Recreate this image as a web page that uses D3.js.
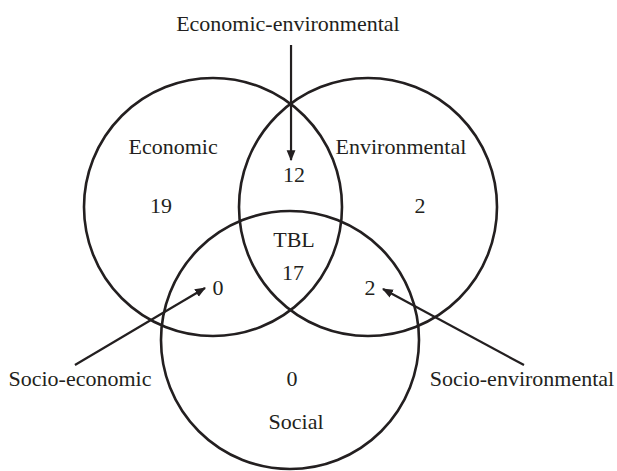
<!DOCTYPE html>
<html>
<head>
<meta charset="utf-8">
<script src="https://cdn.jsdelivr.net/npm/d3@7"></script>
<style>
  html, body { margin: 0; padding: 0; background: #fff; }
  svg { display: block; }
  text { font-family: "Liberation Serif", "DejaVu Serif", serif; fill: #231f20; }
</style>
</head>
<body>
<svg id="chart" width="617" height="471"></svg>
<script>
// ---- data ----
const setNames = ["Economic", "Environmental", "Social"];
const regionNames = ["Economic", "Environmental", "Economic-environmental", "TBL", "Socio-economic", "Socio-environmental", "Social"];
const regionCounts = [19, 2, 12, 17, 0, 2, 0];

// ---- layout (unit space: circle radius = 1) ----
const W = 617, H = 471;
const R = 129;
const x = d3.scaleLinear().domain([0, 1]).range([290, 290 + R]);
const y = d3.scaleLinear().domain([0, 1]).range([207, 207 + R]);

const circleCenters = [[-0.5969, 0], [0.6047, 0], [0, 1.031]];
// set-name label positions
const setLabelPos = [[-0.906, -0.411], [0.86, -0.411], [0.047, 1.721]];
// count positions by region
const countPos = [
  [-1.0, 0.047],   // Economic only
  [1.008, 0.047],  // Environmental only
  [0.031, -0.194], // Econ-env
  [0.023, 0.566],  // TBL
  [-0.558, 0.682], // Socio-economic
  [0.620, 0.682],  // Socio-environmental
  [0.016, 1.388]   // Social only
];
const tblLabelPos = [0.031, 0.310];
// callout labels and arrows for regions 2, 4, 5
const callouts = [
  { region: 2, label: [-0.016, -1.364], from: [0.008, -1.256], to: [0.008, -0.364] },
  { region: 4, label: [-1.628, 1.388], from: [-1.667, 1.225], to: [-0.659, 0.628] },
  { region: 5, label: [1.798, 1.388], from: [1.814, 1.225], to: [0.721, 0.636] }
];

const svg = d3.select("#chart");
const ink = "#231f20";

svg.append("defs").append("marker")
  .attr("id", "arrow")
  .attr("viewBox", "0 0 10 10")
  .attr("refX", 9).attr("refY", 5)
  .attr("markerWidth", 5).attr("markerHeight", 5)
  .attr("markerUnits", "strokeWidth")
  .attr("orient", "auto")
  .append("path").attr("d", "M0,1 L10,5 L0,9 Z").attr("fill", ink);

// circles
svg.append("g").selectAll("circle")
  .data(setNames)
  .join("circle")
  .attr("cx", (d, i) => x(circleCenters[i][0]))
  .attr("cy", (d, i) => y(circleCenters[i][1]))
  .attr("r", x(1) - x(0))
  .attr("fill", "none")
  .attr("stroke", ink)
  .attr("stroke-width", 2.6);

// arrows
svg.append("g").selectAll("line")
  .data(callouts)
  .join("line")
  .attr("x1", d => x(d.from[0])).attr("y1", d => y(d.from[1]))
  .attr("x2", d => x(d.to[0])).attr("y2", d => y(d.to[1]))
  .attr("stroke", ink)
  .attr("stroke-width", 2.2)
  .attr("marker-end", "url(#arrow)");

const fs = 22;
// set labels
svg.append("g").selectAll("text")
  .data(setNames)
  .join("text")
  .attr("x", (d, i) => x(setLabelPos[i][0]))
  .attr("y", (d, i) => y(setLabelPos[i][1]))
  .attr("text-anchor", "middle")
  .attr("font-size", fs)
  .text(d => d);

// counts
svg.append("g").selectAll("text")
  .data(regionCounts)
  .join("text")
  .attr("x", (d, i) => x(countPos[i][0]))
  .attr("y", (d, i) => y(countPos[i][1]))
  .attr("text-anchor", "middle")
  .attr("font-size", fs)
  .text(d => d);

// TBL label
svg.append("text")
  .attr("x", x(tblLabelPos[0])).attr("y", y(tblLabelPos[1]))
  .attr("text-anchor", "middle")
  .attr("font-size", fs)
  .text(regionNames[3]);

// callout labels
svg.append("g").selectAll("text")
  .data(callouts)
  .join("text")
  .attr("x", d => x(d.label[0]))
  .attr("y", d => y(d.label[1]))
  .attr("text-anchor", "middle")
  .attr("font-size", fs)
  .text(d => regionNames[d.region]);
</script>
</body>
</html>
